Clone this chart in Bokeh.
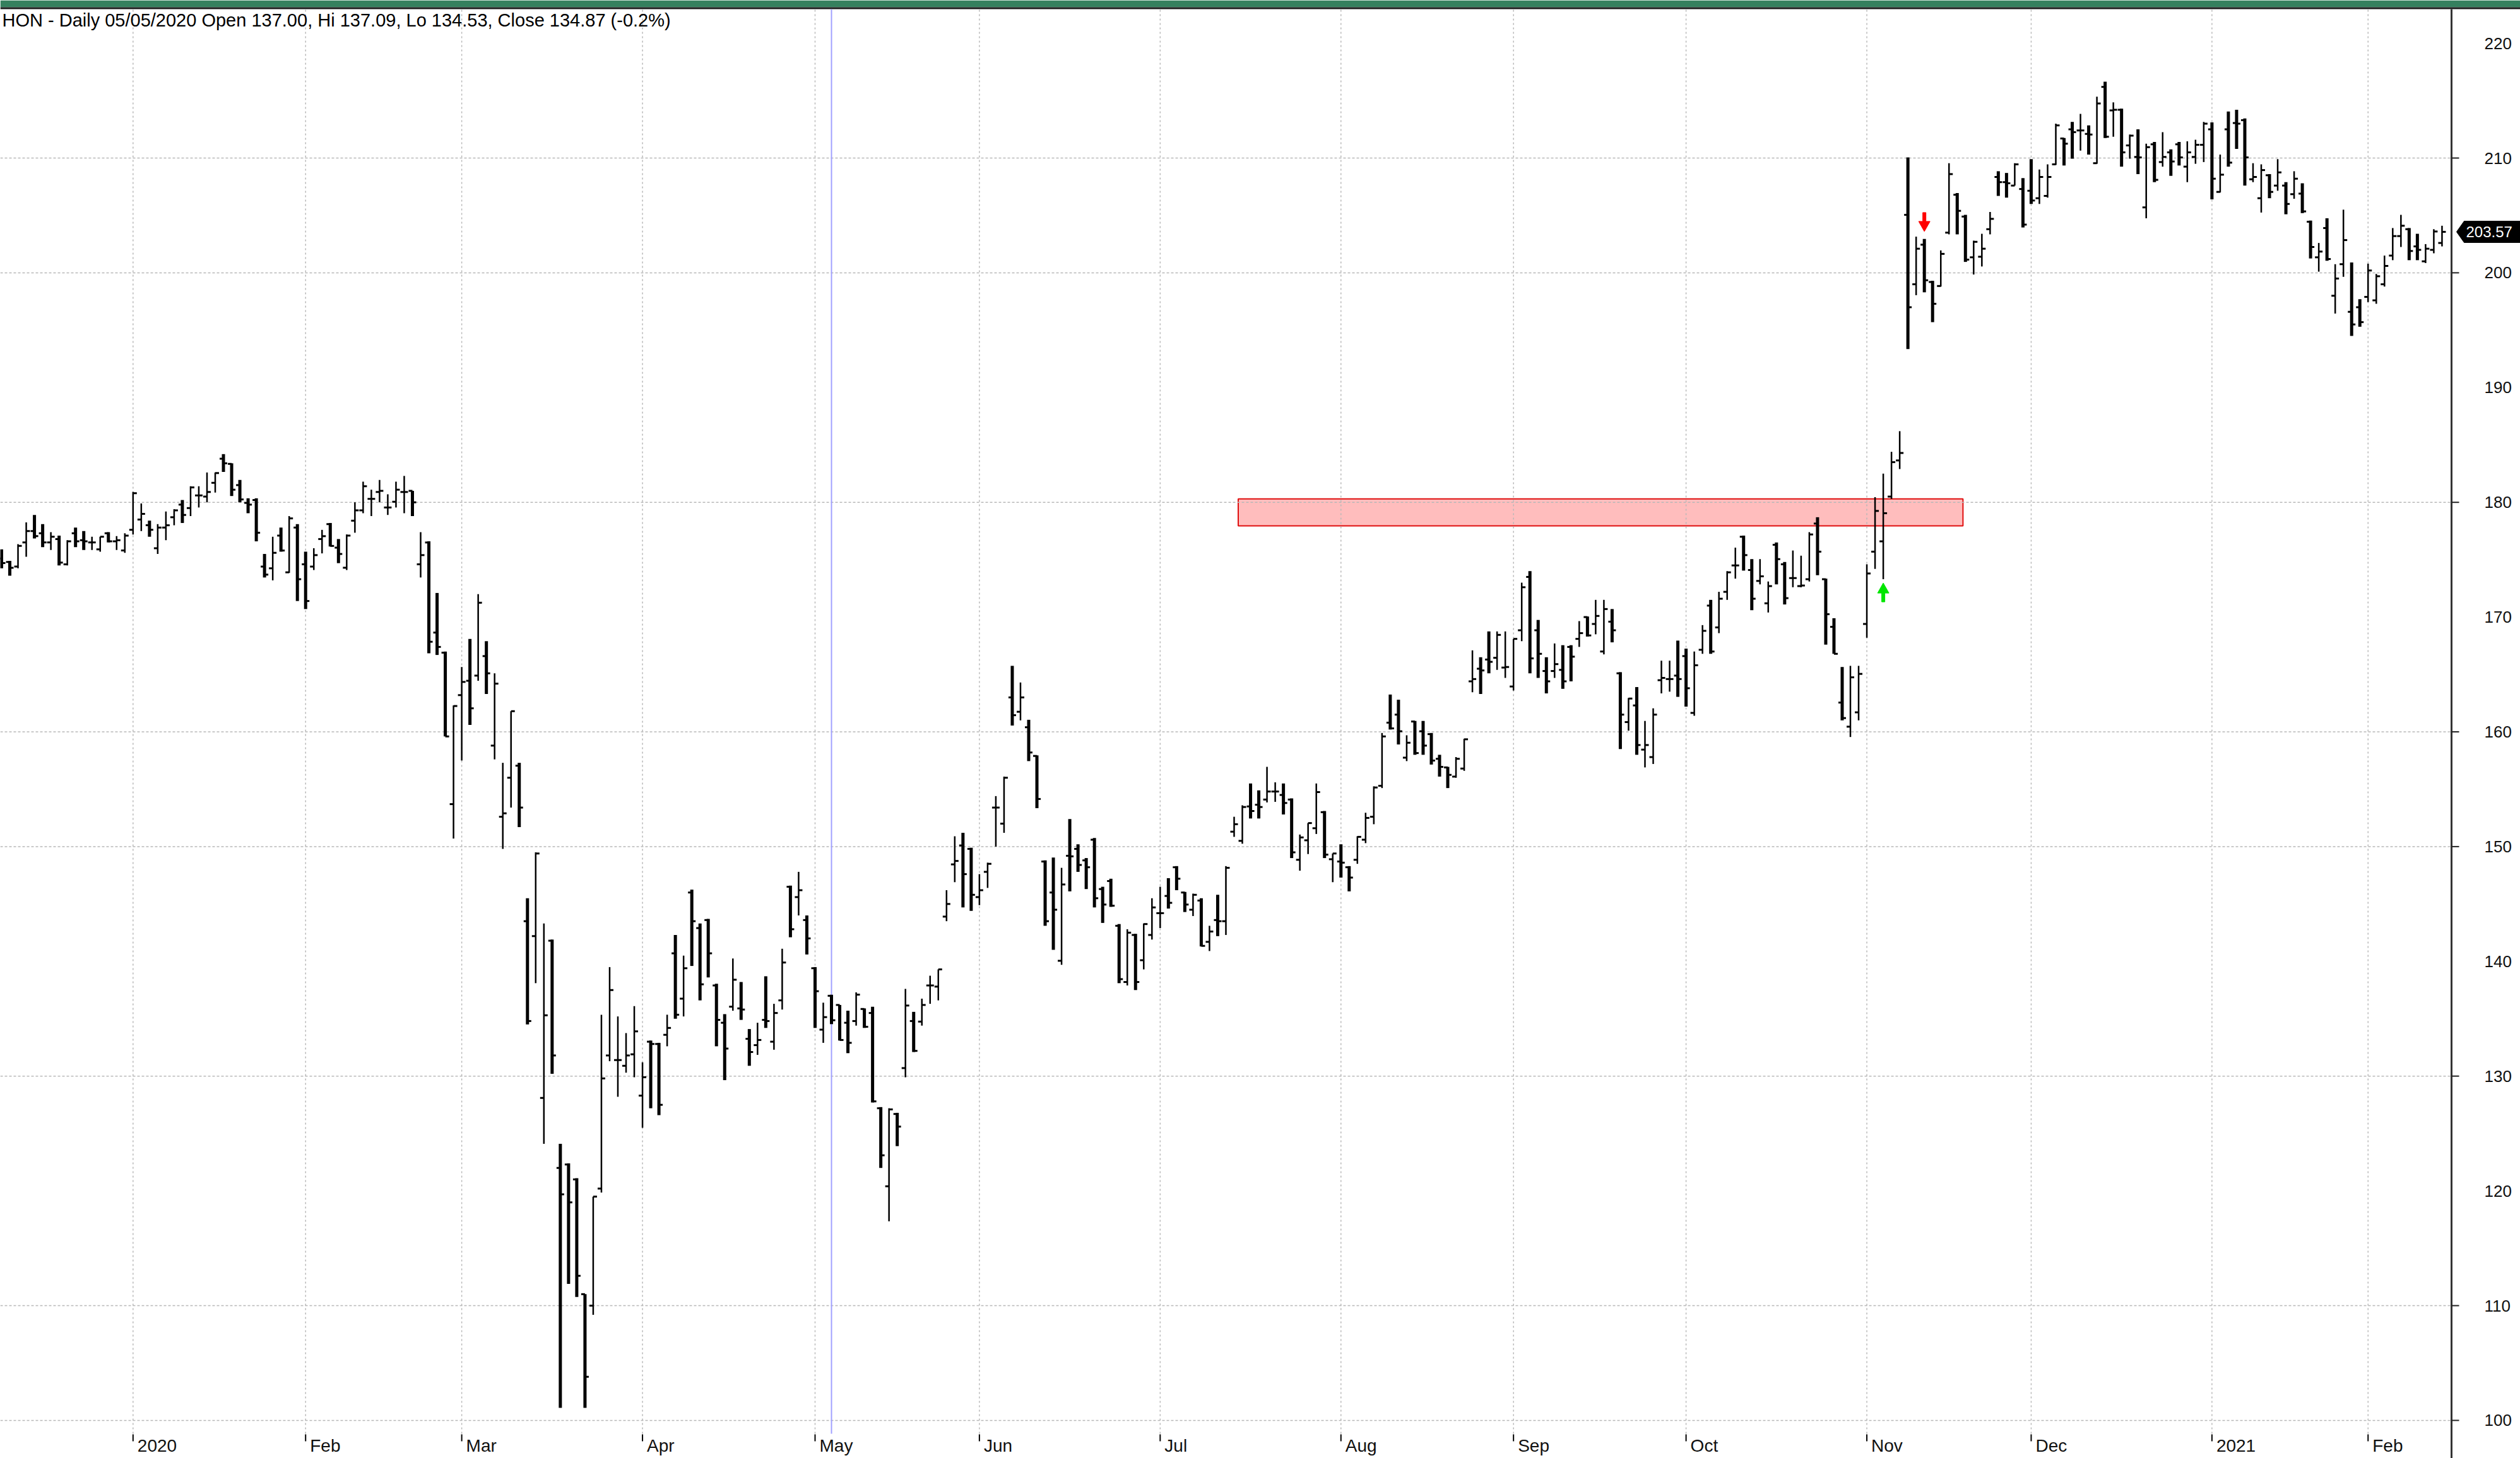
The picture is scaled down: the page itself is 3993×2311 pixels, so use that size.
import numpy as np
from bokeh.plotting import figure
from bokeh.models import Range1d
from bokeh.core.properties import value
from bokeh.embed import file_html
from bokeh.resources import INLINE

# ---------------- data (daily OHLC, trading-day index 0 = 2019-12-09) ----------------
title_text = "HON - Daily 05/05/2020 Open 137.00, Hi 137.09, Lo 134.53, Close 134.87 (-0.2%)"

opens = [175.1, 174.8, 174.4, 176.5, 177.5, 177.3, 176.5, 176.8, 174.6, 177.3,
         176.7, 176.5, 175.9, 177.3, 176.6, 175.8, 177.6, 178.5, 178.0, 176.0,
         177.8, 178.7, 179.8, 179.5, 180.6, 180.5, 181.7, 183.8, 183.35, 181.5,
         179.95, 180.2, 174.4, 174.25, 177.1, 173.9, 177.8, 174.6, 174.4, 176.8,
         178.1, 176.05, 174.3, 178.4, 179.3, 180.3, 180.9, 179.55, 180.05, 180.9,
         181.0, 174.6, 176.5, 168.65, 166.9, 153.7, 163.2, 164.45, 164.9, 166.6,
         158.8, 152.6, 156.0, 157.05, 143.5, 142.2, 128.1, 141.8, 122.0, 122.3,
         121.0, 111.0, 110.0, 120.2, 131.8, 131.4, 130.9, 131.9, 128.3, 133.0,
         132.8, 133.6, 140.7, 136.75, 146.0, 142.9, 143.6, 137.9, 134.65, 136.05,
         135.9, 133.25, 132.7, 134.9, 133.0, 136.6, 146.5, 145.6, 143.6, 139.4,
         134.05, 137.00, 136.2, 134.65, 134.8, 135.85, 135.5, 127.2, 120.4, 126.7,
         130.7, 134.8, 134.75, 137.9, 137.8, 143.9, 148.45, 150.1, 149.8, 145.6,
         147.8, 153.4, 152.0, 163.0, 161.75, 160.4, 157.9, 148.7, 146.0, 140.05,
         149.2, 149.8, 148.8, 150.6, 146.3, 147.0, 143.1, 138.2, 142.3, 140.1,
         142.3, 144.2, 145.7, 148.2, 146.0, 144.5, 145.3, 141.7, 143.6, 143.5,
         151.3, 150.5, 153.5, 153.65, 154.1, 154.8, 154.5, 154.1, 148.85, 150.55,
         151.6, 153.0, 148.9, 148.7, 148.2, 148.85, 150.6, 152.6, 155.3, 160.8,
         161.5, 157.75, 160.9, 160.05, 159.8, 157.65, 156.9, 156.1, 156.8, 164.4,
         165.5, 166.3, 166.45, 165.6, 163.95, 168.85, 173.5, 168.85, 165.3, 165.3,
         165.4, 167.4, 168.1, 170.0, 169.4, 167.0, 169.6, 165.1, 160.85, 162.3,
         158.45, 157.8, 164.5, 164.6, 164.9, 166.6, 161.65, 167.15, 171.0, 169.1,
         172.2, 174.5, 177.0, 174.1, 173.15, 171.2, 176.3, 174.6, 173.4, 172.7,
         173.3, 178.15, 173.3, 169.15, 162.55, 160.45, 161.7, 169.4, 175.7, 176.6,
         180.5, 183.65, 205.05, 199.0, 202.45, 199.2, 198.85, 203.5, 206.8, 204.9,
         201.35, 201.4, 203.8, 208.35, 207.9, 207.6, 207.3, 207.15, 206.5, 206.7,
         209.45, 211.7, 212.5, 212.4, 212.1, 209.55, 216.2, 214.15, 214.2, 211.1,
         210.1, 205.7, 211.2, 209.65, 210.5, 211.2, 209.25, 210.1, 211.15, 212.5,
         207.05, 212.5, 213.05, 213.3, 208.15, 206.5, 208.5, 207.6, 207.6, 206.85,
         206.9, 204.45, 201.35, 203.9, 198.0, 200.75, 196.6, 197.0, 197.9, 197.6,
         199.0, 201.5, 203.2, 203.8, 202.3, 201.0, 202.0, 202.6]

highs = [175.9, 174.9, 176.35, 178.25, 178.9, 178.1, 177.4, 177.1, 176.7, 177.8,
         177.5, 177.0, 177.0, 177.4, 177.05, 177.3, 180.9, 179.9, 178.4, 178.1,
         179.2, 179.4, 180.2, 181.4, 181.4, 182.6, 182.6, 184.2, 183.4, 181.95,
         180.35, 180.35, 175.5, 177.0, 177.8, 178.8, 178.1, 175.7, 176.0, 177.6,
         178.2, 176.8, 177.2, 180.0, 181.8, 181.1, 181.95, 180.7, 181.8, 182.3,
         181.0, 177.4, 176.6, 172.1, 167.0, 162.3, 165.65, 168.1, 172.0, 167.9,
         165.1, 157.3, 161.8, 157.3, 145.5, 149.5, 143.3, 141.9, 124.1, 122.4,
         121.1, 111.0, 119.5, 135.35, 139.5, 135.2, 133.75, 136.1, 131.2, 133.1,
         132.9, 135.35, 142.3, 140.5, 146.25, 143.3, 143.7, 138.05, 135.4, 140.25,
         138.2, 134.1, 134.65, 138.7, 136.3, 141.1, 146.6, 147.8, 144.0, 139.5,
         136.4, 137.09, 136.2, 135.7, 137.3, 135.9, 136.05, 127.3, 127.2, 126.8,
         137.6, 135.6, 136.75, 138.75, 139.3, 146.2, 150.9, 151.2, 149.9, 147.6,
         148.6, 154.4, 156.1, 165.75, 164.3, 161.05, 157.95, 148.8, 149.05, 148.15,
         152.4, 150.2, 149.0, 150.75, 146.5, 147.2, 143.25, 142.8, 142.4, 143.3,
         145.5, 146.5, 147.25, 148.3, 146.05, 145.9, 145.5, 143.1, 145.8, 148.3,
         152.6, 153.6, 155.5, 154.9, 156.95, 155.6, 155.5, 154.2, 151.05, 152.05,
         155.5, 153.1, 149.4, 150.2, 148.3, 150.9, 152.95, 155.25, 159.9, 163.25,
         162.8, 159.7, 160.95, 160.95, 159.9, 158.0, 156.95, 157.8, 159.4, 167.1,
         166.5, 168.75, 168.75, 168.75, 168.1, 173.0, 174.0, 169.75, 166.5, 167.7,
         167.55, 167.55, 169.65, 170.05, 171.5, 171.5, 170.7, 165.2, 162.95, 163.9,
         160.95, 162.05, 166.2, 166.2, 167.95, 167.25, 167.0, 169.3, 171.5, 172.2,
         174.0, 176.05, 177.1, 175.05, 175.05, 173.1, 176.5, 174.8, 175.8, 175.35,
         177.4, 178.7, 173.35, 169.9, 165.65, 165.75, 165.75, 174.6, 180.45, 182.5,
         184.4, 186.2, 210.05, 203.15, 202.95, 199.3, 201.95, 209.55, 206.95, 205.05,
         202.8, 203.4, 205.3, 208.85, 208.7, 209.55, 208.25, 209.9, 209.0, 209.45,
         213.0, 211.75, 213.15, 213.85, 212.85, 215.35, 216.65, 214.85, 214.3, 212.05,
         212.5, 211.25, 211.4, 212.25, 210.75, 211.4, 211.45, 211.6, 213.15, 213.1,
         210.3, 214.05, 214.2, 213.45, 209.55, 209.45, 208.6, 209.9, 207.9, 208.85,
         207.8, 204.55, 202.6, 204.75, 200.75, 205.5, 200.9, 197.7, 200.8, 199.9,
         201.5, 203.9, 205.05, 203.9, 203.4, 202.5, 203.8, 204.1]

lows = [174.25, 173.6, 174.25, 175.25, 176.85, 176.1, 175.85, 174.5, 174.5, 176.1,
        175.85, 175.85, 175.7, 176.5, 175.85, 175.6, 177.2, 177.5, 177.0, 175.5,
        176.7, 178.0, 178.2, 178.8, 179.55, 180.0, 180.85, 182.65, 180.55, 180.0,
        179.05, 176.6, 173.45, 173.2, 175.7, 173.85, 171.4, 170.7, 174.1, 175.55,
        176.15, 174.7, 174.1, 177.35, 179.05, 178.8, 180.0, 178.9, 179.55, 179.05,
        178.8, 173.45, 166.85, 166.7, 159.6, 150.7, 157.5, 160.6, 164.45, 163.3,
        157.6, 149.8, 153.4, 151.7, 134.5, 138.1, 124.1, 130.2, 101.1, 111.9,
        110.75, 101.1, 109.2, 119.85, 131.3, 128.2, 130.3, 129.9, 125.5, 127.2,
        126.6, 132.6, 135.0, 135.2, 139.6, 136.6, 138.6, 132.6, 129.65, 135.7,
        134.9, 130.9, 131.85, 134.2, 132.3, 135.8, 142.1, 144.0, 140.6, 134.2,
        132.9, 134.53, 133.1, 132.0, 134.4, 134.2, 127.7, 122.0, 117.35, 123.9,
        129.9, 132.1, 134.4, 136.3, 136.6, 143.5, 146.9, 144.7, 144.4, 144.9,
        146.4, 150.0, 151.2, 160.55, 161.0, 157.45, 153.35, 143.1, 141.0, 139.7,
        146.1, 147.8, 146.3, 144.7, 143.35, 144.75, 138.1, 137.9, 137.5, 139.3,
        141.9, 142.9, 144.6, 146.2, 144.3, 143.95, 141.3, 140.9, 142.2, 142.3,
        150.85, 150.25, 152.45, 152.45, 153.85, 153.9, 152.8, 149.0, 147.9, 149.35,
        151.1, 149.0, 146.9, 147.3, 146.1, 148.5, 150.3, 151.95, 155.1, 160.2,
        158.9, 157.45, 158.0, 158.0, 157.15, 156.1, 155.1, 156.0, 156.6, 163.45,
        163.3, 165.1, 165.4, 164.7, 163.6, 167.9, 165.1, 164.7, 163.35, 164.7,
        163.75, 164.4, 167.4, 168.3, 168.5, 166.75, 167.8, 158.5, 160.1, 158.0,
        156.9, 157.2, 163.35, 163.5, 163.05, 162.2, 161.4, 166.8, 166.8, 168.6,
        171.5, 173.35, 174.05, 170.6, 172.85, 170.4, 172.85, 171.1, 172.6, 172.6,
        173.1, 173.65, 167.6, 166.8, 161.0, 159.55, 161.0, 168.2, 174.2, 173.3,
        180.3, 182.9, 193.35, 198.05, 198.3, 195.7, 198.8, 203.35, 203.35, 200.95,
        199.85, 200.55, 203.35, 206.7, 206.55, 207.6, 203.95, 206.0, 206.0, 206.55,
        209.4, 209.35, 209.95, 210.65, 210.3, 209.5, 211.75, 211.85, 209.25, 209.95,
        208.6, 204.75, 207.9, 209.25, 208.45, 209.35, 207.9, 209.5, 209.65, 206.4,
        207.0, 209.25, 210.8, 207.6, 207.9, 205.25, 206.5, 207.15, 205.1, 206.45,
        205.2, 201.25, 200.1, 201.05, 196.45, 199.65, 194.5, 195.3, 197.45, 197.3,
        198.8, 201.1, 202.25, 201.1, 201.1, 200.85, 201.7, 202.3]

closes = [174.7, 174.3, 176.2, 177.5, 177.05, 176.5, 177.0, 174.75, 176.6, 176.6,
          176.6, 176.5, 177.0, 176.6, 176.7, 177.1, 180.8, 179.0, 177.6, 177.8,
          178.0, 179.3, 178.9, 181.3, 180.6, 180.9, 182.55, 183.4, 181.1, 180.25,
          179.8, 177.35, 173.7, 175.6, 175.8, 178.6, 173.3, 171.4, 175.4, 177.05,
          176.2, 175.5, 177.1, 179.3, 181.4, 180.3, 181.0, 179.55, 181.1, 180.9,
          180.0, 175.4, 167.85, 167.4, 159.6, 162.25, 164.35, 162.05, 171.25, 165.1,
          164.2, 152.9, 161.8, 153.4, 134.8, 149.4, 135.3, 131.8, 119.7, 119.0,
          112.6, 103.8, 119.5, 129.8, 137.5, 131.4, 131.8, 133.9, 129.9, 132.8,
          127.5, 134.2, 135.35, 139.4, 143.5, 138.0, 140.7, 134.9, 132.4, 138.4,
          135.8, 132.1, 133.15, 134.8, 135.5, 139.9, 142.8, 146.2, 142.0, 137.4,
          135.14, 134.87, 133.15, 132.9, 137.1, 134.3, 127.8, 123.1, 127.1, 125.6,
          136.15, 132.2, 136.2, 137.9, 139.3, 145.0, 148.75, 147.6, 145.8, 146.2,
          148.5, 153.4, 156.0, 161.45, 163.0, 158.2, 154.15, 143.5, 144.5, 146.7,
          149.15, 148.4, 148.2, 145.5, 144.95, 144.85, 138.45, 142.5, 138.2, 143.25,
          144.7, 144.2, 145.1, 147.2, 144.95, 145.8, 141.35, 142.6, 143.5, 148.15,
          151.95, 153.45, 153.1, 153.45, 154.8, 154.8, 153.8, 149.5, 150.8, 152.05,
          154.75, 149.3, 149.4, 148.6, 147.3, 150.85, 152.5, 155.15, 159.6, 160.3,
          160.05, 159.05, 158.15, 158.8, 157.5, 156.95, 156.25, 157.65, 159.35, 164.6,
          165.35, 166.1, 168.45, 165.65, 168.1, 172.6, 166.4, 166.8, 164.4, 165.9,
          164.4, 166.55, 168.6, 168.4, 170.1, 170.7, 168.85, 161.5, 162.9, 158.85,
          158.85, 161.5, 164.7, 164.6, 164.6, 163.8, 165.8, 168.8, 167.0, 171.6,
          173.9, 174.5, 175.4, 171.6, 173.55, 172.7, 175.05, 171.65, 173.4, 172.75,
          177.2, 175.7, 170.25, 166.8, 161.2, 164.75, 165.05, 173.8, 179.25, 179.05,
          183.5, 184.3, 197.0, 202.1, 199.35, 197.3, 201.65, 208.6, 205.4, 201.15,
          202.7, 202.1, 204.7, 207.9, 207.8, 209.45, 204.2, 206.3, 208.35, 208.35,
          212.85, 211.25, 212.25, 212.4, 212.05, 214.75, 211.85, 214.2, 210.5, 211.95,
          210.05, 210.95, 208.1, 210.1, 209.7, 210.05, 210.5, 211.15, 213.0, 208.2,
          208.55, 209.6, 213.0, 210.05, 208.35, 208.95, 207.05, 208.75, 206.0, 208.2,
          205.35, 202.25, 201.85, 201.2, 199.5, 202.85, 195.5, 195.7, 200.2, 199.7,
          200.6, 203.2, 204.1, 201.9, 202.0, 202.1, 203.6, 203.57]

month_labels = ["2020", "Feb", "Mar", "Apr", "May", "Jun", "Jul", "Aug", "Sep",
                "Oct", "Nov", "Dec", "2021", "Feb"]
month_start = [16, 37, 56, 78, 99, 119, 141, 163, 184, 205, 227, 247, 269, 288]

price_labels = [100, 110, 120, 130, 140, 150, 160, 170, 180, 190, 200, 210, 220]
grid_levels = [100, 110, 130, 150, 160, 180, 200, 210]

zone_x = [150.5, 238.7]
zone_y = [177.95, 180.3]
cursor_idx = 101
buy_idx, buy_tip = 229, 172.97
sell_idx, sell_tip = 234, 203.6

# ---------------- pixel layout ----------------
W, H = 3993, 2311
PX0, PXSTEP = 2.0, 13.02           # x pixel of bar 0, pixels per trading day
YREF, YREF_PX, PPU = 210.0, 250.0, 18.19  # price 210 at y=250px, px per 1.0


def xi(px):
    return (px - PX0) / PXSTEP


def yv(py):
    return YREF - (py - YREF_PX) / PPU


AXIS_PX = 3884
dx = 1.0 / PXSTEP
dy = 1.0 / PPU

p = figure(width=W, height=H, output_backend="svg", toolbar_location=None,
           x_range=Range1d(xi(0), xi(W)), y_range=Range1d(yv(H), yv(0)),
           x_axis_location=None, y_axis_location=None, min_border=0,
           title=None)
p.grid.visible = False
p.outline_line_color = None
p.background_fill_color = "white"
p.border_fill_color = "white"

FONT = value("Liberation Sans")

# top green band + dark rule
p.quad(left=[xi(0)], right=[xi(W)], bottom=[yv(11)], top=[yv(0)],
       fill_color="#35805e", line_color=None)
p.quad(left=[xi(0)], right=[xi(W)], bottom=[yv(14)], top=[yv(11)],
       fill_color="#1c1c1c", line_color=None)

# resistance zone
p.quad(left=[zone_x[0]], right=[zone_x[1]], bottom=[zone_y[0]], top=[zone_y[1]],
       fill_color="#ffbdbd", line_color="#e01010", line_width=2)

# gridlines
gl = np.array(grid_levels, dtype=float)
p.segment(x0=np.full(len(gl), xi(0)), y0=gl, x1=np.full(len(gl), xi(AXIS_PX)), y1=gl,
          line_color="#b8b8b8", line_width=1.5, line_dash="4 3")
ms = np.array(month_start, dtype=float)
p.segment(x0=ms, y0=np.full(len(ms), yv(2272)), x1=ms, y1=np.full(len(ms), yv(14)),
          line_color="#b8b8b8", line_width=1.5, line_dash="3 4")

# cursor line
p.segment(x0=[cursor_idx], y0=[yv(2272)], x1=[cursor_idx], y1=[yv(14)],
          line_color="#a0a0ff", line_width=2)

# OHLC bars
o = np.array(opens); h = np.array(highs); l = np.array(lows); c = np.array(closes)
idx = np.arange(len(o), dtype=float)
up = c >= o
dn = ~up
tick = 6 * dx
for mask, lw in ((up, 2.5), (dn, 5)):
    p.segment(x0=idx[mask], y0=l[mask], x1=idx[mask], y1=h[mask],
              line_color="black", line_width=lw)
p.segment(x0=idx - tick, y0=o, x1=idx, y1=o, line_color="black", line_width=3)
p.segment(x0=idx, y0=c, x1=idx + tick, y1=c, line_color="black", line_width=3)


# signal arrows
def arrow(ix, tip, direction):
    # direction +1 = pointing up (tip on top), -1 = pointing down
    L_total, L_head, hw_head, hw_shaft = 30, 16, 9, 2.5
    s = direction
    base = tip - s * L_total * dy
    neck = tip - s * L_head * dy
    xs = [ix, ix + hw_head * dx, ix + hw_shaft * dx, ix + hw_shaft * dx,
          ix - hw_shaft * dx, ix - hw_shaft * dx, ix - hw_head * dx]
    ys = [tip, neck, neck, base, base, neck, neck]
    return xs, ys


gx, gy = arrow(buy_idx, buy_tip, 1)
rx, ry = arrow(sell_idx, sell_tip, -1)
p.patch(gx, gy, fill_color="#00e600", line_color="#00e600")
p.patch(rx, ry, fill_color="#ff0000", line_color="#ff0000")

# right price axis (line, ticks, labels)
p.segment(x0=[xi(AXIS_PX)], y0=[yv(14)], x1=[xi(AXIS_PX)], y1=[yv(H)],
          line_color="#333333", line_width=3)
p.segment(x0=np.full(len(gl), xi(AXIS_PX)), y0=gl,
          x1=np.full(len(gl), xi(AXIS_PX + 12)), y1=gl,
          line_color="#222222", line_width=2)
pl = np.array(price_labels, dtype=float)
p.text(x=np.full(len(pl), xi(3936)), y=pl, text=[str(v) for v in price_labels],
       text_font=FONT, text_font_size="26px", text_color="#101010",
       text_align="left", text_baseline="middle")

# last price tag
last = closes[-1]
tag_h = 17 * dy
p.patch([xi(3892), xi(3904), xi(W + 5), xi(W + 5), xi(3904)],
        [last, last + tag_h, last + tag_h, last - tag_h, last - tag_h],
        fill_color="black", line_color="black")
p.text(x=[xi(3907)], y=[last], text=[f"{last:.2f}"], text_font=FONT,
       text_font_size="24px", text_color="white", text_align="left",
       text_baseline="middle")

# month axis labels
p.segment(x0=ms, y0=np.full(len(ms), yv(2273)), x1=ms, y1=np.full(len(ms), yv(2284)),
          line_color="black", line_width=2)
p.text(x=ms + 7 * dx, y=np.full(len(ms), yv(2291)), text=month_labels,
       text_font=FONT, text_font_size="28px", text_color="#101010",
       text_align="left", text_baseline="middle")

# header text
p.text(x=[xi(3)], y=[yv(15)], text=[title_text], text_font=FONT,
       text_font_size="29px", text_color="black", text_align="left",
       text_baseline="top")

open("out.html", "w").write(file_html(p, INLINE))
